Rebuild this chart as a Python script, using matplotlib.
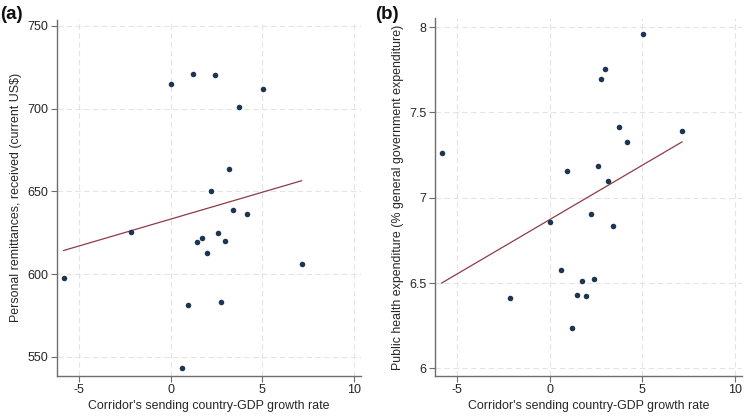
import numpy as np
import matplotlib
matplotlib.use("Agg")
import matplotlib.pyplot as plt

plt.rcParams['font.family'] = ['Liberation Sans', 'DejaVu Sans']
plt.rcParams['axes.unicode_minus'] = False

gdp_growth = [-5.84, -2.15, 0.0, 0.59, 0.95, 1.2, 1.45, 1.73, 1.98, 2.2,
              2.4, 2.58, 2.75, 2.96, 3.17, 3.4, 3.72, 4.17, 5.05, 7.14]
remittances = [597.5, 625.5, 714.7, 543.3, 581.2, 721.0, 619.4, 621.9, 612.8, 650.0,
               720.5, 624.5, 583.3, 620.0, 663.6, 638.6, 701.0, 636.4, 712.0, 606.1]
health_exp = [7.259, 6.41, 6.857, 6.576, 7.155, 6.234, 6.431, 6.511, 6.423, 6.902,
              6.521, 7.186, 7.694, 7.756, 7.095, 6.833, 7.413, 7.325, 7.957, 7.391]

# fitted lines as shown in the reference (intercept, slope)
fit_a = (633.2, 3.251)
fit_b = (6.872, 0.0637)

x_ticks = [-5, 0, 5, 10]
y_ticks_a = [550, 600, 650, 700, 750]
y_ticks_b = [6, 6.5, 7, 7.5, 8]
y_ticklabels_b = ['6', '6.5', '7', '7.5', '8']

xlabel = "Corridor's sending country-GDP growth rate"
ylabel_a = "Personal remittances, received (current US$)"
ylabel_b = "Public health expenditure (% general government expenditure)"

dot_color = '#1c3553'
line_color = '#8e3b46'
axis_color = '#6e6e6e'
grid_color = '#e4e4e4'
text_color = '#262626'

fig = plt.figure(figsize=(7.47, 4.19), dpi=100)
ax1 = fig.add_axes([0.0763, 0.1033, 0.407, 0.849])
ax2 = fig.add_axes([0.5823, 0.1033, 0.411, 0.853])


def style(ax, yticks, ylim, ylabel, yticklabels=None):
    ax.set_xlim(-6.2, 10.38)
    ax.set_ylim(*ylim)
    ax.set_xticks(x_ticks)
    ax.set_yticks(yticks)
    if yticklabels is not None:
        ax.set_yticklabels(yticklabels)
    for s in ['top', 'right']:
        ax.spines[s].set_visible(False)
    for s in ['left', 'bottom']:
        ax.spines[s].set_color(axis_color)
        ax.spines[s].set_linewidth(1.0)
    ax.tick_params(colors=text_color, labelsize=9, length=4, width=0.8,
                   color=axis_color, pad=2)
    ax.grid(True, color=grid_color, linestyle=(0, (5, 3)), linewidth=0.8)
    ax.set_axisbelow(True)
    ax.set_xlabel(xlabel, fontsize=8.9, color=text_color, labelpad=3)
    ax.set_ylabel(ylabel, fontsize=8.9, color=text_color, labelpad=4)


def scatter_fit(ax, x, y, fit):
    x = np.asarray(x)
    y = np.asarray(y)
    ax.scatter(x, y, s=16, color=dot_color, zorder=3, linewidths=0)
    a, b = fit
    xs = np.array([x.min(), x.max()])
    ax.plot(xs, a + b * xs, color=line_color, linewidth=0.9, zorder=2)


scatter_fit(ax1, gdp_growth, remittances, fit_a)
style(ax1, y_ticks_a, (538.5, 753.6), ylabel_a)

scatter_fit(ax2, gdp_growth, health_exp, fit_b)
style(ax2, y_ticks_b, (5.957, 8.051), ylabel_b, y_ticklabels_b)

fig.text(0.0, 0.965, '(a)', fontsize=13.5, fontweight='bold', ha='left', va='center',
         color='#111111')
fig.text(0.502, 0.965, '(b)', fontsize=13.5, fontweight='bold', ha='left', va='center',
         color='#111111')

fig.savefig('out.png', dpi=100, facecolor='white')
